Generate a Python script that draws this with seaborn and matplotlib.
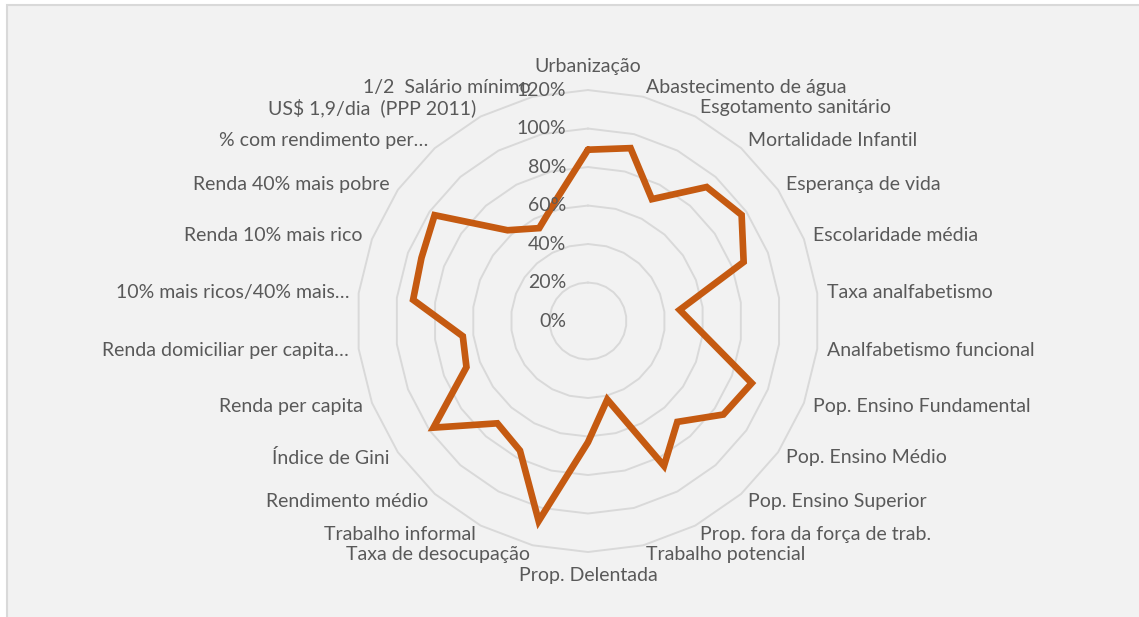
import numpy as np
import pandas as pd
import seaborn as sns
import matplotlib.pyplot as plt
from matplotlib.patches import Rectangle
from matplotlib.transforms import offset_copy

# Data
categories = [
    "Urbanização", "Abastecimento de água", "Esgotamento sanitário",
    "Mortalidade Infantil", "Esperança de vida", "Escolaridade média",
    "Taxa analfabetismo", "Analfabetismo funcional", "Pop. Ensino Fundamental",
    "Pop. Ensino Médio", "Pop. Ensino Superior", "Prop. fora da força de trab.",
    "Trabalho potencial", "Prop. Delentada", "Taxa de desocupação",
    "Trabalho informal", "Rendimento médio", "Índice de Gini",
    "Renda per capita", "Renda domiciliar per capita…",
    "10% mais ricos/40% mais…", "Renda 10% mais rico", "Renda 40% mais pobre",
    "% com rendimento per…", "US$ 1,9/dia  (PPP 2011)", "1/2  Salário mínimo",
]
values = [
    0.89, 0.925, 0.715, 0.93, 0.97, 0.865, 0.48, 0.61, 0.91, 0.855, 0.70,
    0.85, 0.42, 0.63, 1.07, 0.76, 0.71, 0.975, 0.675, 0.655, 0.915, 0.925,
    0.968, 0.63, 0.545, 0.66,
]
tick_levels = [0.0, 0.2, 0.4, 0.6, 0.8, 1.0, 1.2]

sns.set_style("white")
plt.rcParams['font.family'] = ['Lato', 'DejaVu Sans']

n = len(categories)
angles = np.arange(n) * 2 * np.pi / n

df = pd.DataFrame({"angle": np.append(angles, 2 * np.pi),
                   "value": values + values[:1]})

fig = plt.figure(figsize=(11.39, 6.17), dpi=100, facecolor="white")
# chart area background with thin border
fig.patches.append(Rectangle((7 / 1139, -0.01), 1.0, 1.01 - 5 / 617,
                             transform=fig.transFigure, facecolor="#F2F2F2",
                             edgecolor="#D9D9D9", linewidth=1.5, zorder=-5))

ax = fig.add_axes([0.3134, 0.1053, 0.4056, 0.7488], projection="polar")
ax.set_facecolor("none")
ax.set_theta_zero_location("N")
ax.set_theta_direction(-1)
ax.set_ylim(0, 1.2)
ax.grid(False)
ax.spines["polar"].set_visible(False)
ax.set_xticks([])
ax.set_yticks([])

# polygon gridlines like Excel
ring_theta = np.append(angles, 2 * np.pi)
for lvl in tick_levels[1:]:
    ax.plot(ring_theta, [lvl] * len(ring_theta), color="#D9D9D9",
            linewidth=1.4, zorder=1, clip_on=False)

sns.lineplot(data=df, x="angle", y="value", sort=False, ax=ax,
             color="#C55A11", linewidth=4.8, zorder=3, clip_on=False)
ax.lines[-1].set_solid_joinstyle("miter")
ax.set_xlabel("")
ax.set_ylabel("")

# tick labels left of the vertical axis
tick_tr = offset_copy(ax.transData, fig=fig, x=-22, y=0, units="dots")
for lvl in tick_levels:
    ax.text(0, lvl, f"{int(round(lvl * 100))}%", transform=tick_tr,
            ha="right", va="center", fontsize=14, color="#595959", zorder=4)

# category labels
for ang, lab in zip(angles, categories):
    s, c = np.sin(ang), np.cos(ang)
    r = 1.25
    if abs(s) < 0.05:
        ha = "center"
        va = "bottom" if c > 0 else "top"
        r = 1.28
    else:
        ha = "left" if s > 0 else "right"
        va = "center"
    ax.text(ang, r, lab, ha=ha, va=va, fontsize=14, color="#595959",
            clip_on=False)

fig.savefig("out.png", dpi=100, facecolor=fig.get_facecolor())
